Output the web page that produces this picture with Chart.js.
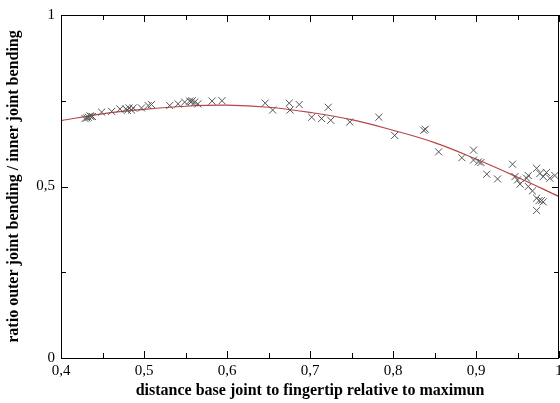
<!DOCTYPE html>
<html>
<head>
<meta charset="utf-8">
<script src="https://cdn.jsdelivr.net/npm/chart.js@4"></script>
<style>
  body { margin: 0; background: #fff; }
</style>
</head>
<body>
<canvas id="ratioChart" width="560" height="403"></canvas>
<script>
// measured points
const xValues = [0.429, 0.431, 0.433, 0.435, 0.436, 0.438, 0.449, 0.461, 0.471, 0.478, 0.480, 0.482, 0.485, 0.487,
  0.497, 0.505, 0.509, 0.531, 0.541, 0.549, 0.555, 0.557, 0.558, 0.561, 0.565, 0.582, 0.594,
  0.646, 0.655, 0.675, 0.676, 0.687, 0.702, 0.714, 0.722, 0.725, 0.748, 0.783, 0.802, 0.837, 0.839,
  0.855, 0.883, 0.897, 0.897, 0.903, 0.906, 0.913, 0.926, 0.944, 0.947, 0.950, 0.953, 0.961, 0.963,
  0.963, 0.968, 0.973, 0.977, 0.981, 0.985, 0.989, 0.995, 0.973, 0.976, 0.979, 0.981, 0.973];
const yValues = [0.698, 0.700, 0.702, 0.706, 0.704, 0.704, 0.717, 0.719, 0.726, 0.726, 0.722, 0.729, 0.723, 0.729,
  0.729, 0.736, 0.739, 0.736, 0.741, 0.746, 0.749, 0.747, 0.750, 0.746, 0.741, 0.749, 0.750,
  0.743, 0.723, 0.743, 0.723, 0.739, 0.702, 0.698, 0.731, 0.693, 0.688, 0.702, 0.649, 0.664, 0.667,
  0.601, 0.584, 0.606, 0.577, 0.572, 0.570, 0.536, 0.522, 0.565, 0.529, 0.519, 0.507, 0.524, 0.532,
  0.500, 0.487, 0.553, 0.538, 0.529, 0.541, 0.524, 0.532, 0.466, 0.459, 0.459, 0.455, 0.430];

// fitted curve
const fitX = [0.40, 0.45, 0.50, 0.55, 0.60, 0.65, 0.70, 0.75, 0.80, 0.85, 0.90, 0.95, 1.00];
const fitY = [0.692, 0.712, 0.725, 0.734, 0.737, 0.731, 0.716, 0.695, 0.664, 0.628, 0.580, 0.527, 0.471];

const xTickLabels = ['0,4', '0,5', '0,6', '0,7', '0,8', '0,9', '1'];
const yTickLabels = ['0', '0,5', '1'];

const serif = '"Liberation Serif", "DejaVu Serif", serif';

// box round the plot with inward ticks on all four sides
const frameTicks = {
  id: 'frameTicks',
  afterDatasetsDraw(chart) {
    const { ctx, chartArea: a, scales: { x, y } } = chart;
    ctx.save();
    ctx.strokeStyle = '#000';
    ctx.lineWidth = 1;
    ctx.strokeRect(Math.round(a.left) + 0.5, Math.round(a.top) + 0.5,
      Math.round(a.right - a.left) - 1, Math.round(a.bottom - a.top));
    ctx.beginPath();
    x.ticks.forEach((t, i) => {
      const px = Math.round(x.getPixelForValue(t.value)) + 0.5;
      const len = i % 2 === 0 ? 7 : 5;
      ctx.moveTo(px, a.bottom); ctx.lineTo(px, a.bottom - len);
      ctx.moveTo(px, a.top); ctx.lineTo(px, a.top + len);
    });
    y.ticks.forEach((t, i) => {
      const py = Math.round(y.getPixelForValue(t.value)) + 0.5;
      const len = i % 2 === 0 ? 7 : 5;
      ctx.moveTo(a.left, py); ctx.lineTo(a.left + len, py);
      ctx.moveTo(a.right, py); ctx.lineTo(a.right - len, py);
    });
    ctx.stroke();
    ctx.restore();
  }
};

new Chart(document.getElementById('ratioChart'), {
  type: 'scatter',
  data: {
    datasets: [
      {
        label: 'measured',
        data: xValues.map((v, i) => ({ x: v, y: yValues[i] })),
        pointStyle: 'crossRot',
        pointRadius: 5,
        pointBorderWidth: 1,
        borderColor: '#555',
        backgroundColor: '#555',
        showLine: false
      },
      {
        label: 'fit',
        type: 'line',
        data: fitX.map((v, i) => ({ x: v, y: fitY[i] })),
        borderColor: '#b84444',
        borderWidth: 1.2,
        pointRadius: 0,
        tension: 0.4,
        fill: false
      }
    ]
  },
  options: {
    responsive: false,
    animation: false,
    layout: { autoPadding: false, padding: { top: 11, right: 1, left: 0, bottom: 0 } },
    plugins: { legend: { display: false }, tooltip: { enabled: false } },
    scales: {
      x: {
        type: 'linear',
        min: 0.4,
        max: 1,
        afterFit: s => { s.height = 45; s.paddingRight = 0; s.paddingLeft = 0; },
        grid: { display: false, drawTicks: false },
        border: { display: false },
        ticks: {
          stepSize: 0.05,
          padding: 4,
          maxRotation: 0,
          autoSkip: false,
          color: '#000',
          font: { family: serif, size: 15 },
          callback: (v, i) => i % 2 === 0 ? xTickLabels[i / 2] : ''
        },
        title: {
          display: true,
          text: 'distance base joint to fingertip relative to maximun',
          color: '#000',
          font: { family: serif, size: 16, weight: 'bold' },
          padding: { top: 0, bottom: 3 }
        }
      },
      y: {
        min: 0,
        max: 1,
        afterFit: s => { s.width = 61; },
        grid: { display: false, drawTicks: false },
        border: { display: false },
        ticks: {
          stepSize: 0.25,
          padding: 6,
          autoSkip: false,
          color: '#000',
          font: { family: serif, size: 15 },
          callback: (v, i) => i % 2 === 0 ? yTickLabels[i / 2] : ''
        },
        title: {
          display: true,
          text: 'ratio outer joint bending / inner joint bending',
          color: '#000',
          font: { family: serif, size: 16, weight: 'bold' },
          padding: { top: 4, bottom: 0 }
        }
      }
    }
  },
  plugins: [frameTicks]
});
</script>
</body>
</html>
